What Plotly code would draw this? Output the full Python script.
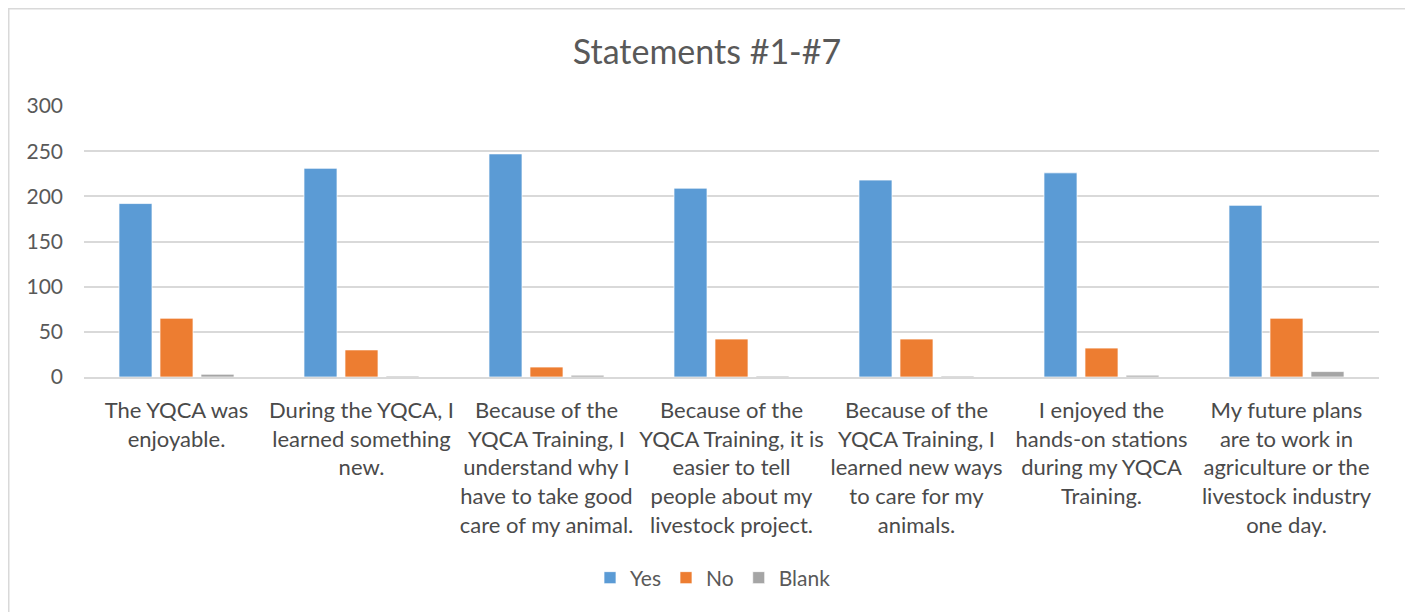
import plotly.graph_objects as go

categories = [
    "The YQCA was<br>enjoyable.",
    "During the YQCA, I<br>learned something<br>new.",
    "Because of the<br>YQCA Training, I<br>understand why I<br>have to take good<br>care of my animal.",
    "Because of the<br>YQCA Training, it is<br>easier to tell<br>people about my<br>livestock project.",
    "Because of the<br>YQCA Training, I<br>learned new ways<br>to care for my<br>animals.",
    "I enjoyed the<br>hands-on stations<br>during my YQCA<br>Training.",
    "My future plans<br>are to work in<br>agriculture or the<br>livestock industry<br>one day.",
]
yes_vals = [192, 231, 247, 209, 218, 226, 190]
no_vals = [65, 30, 11, 42, 42, 32, 65]
blank_vals = [3, 1, 2, 1, 1, 2, 6]

OFF = 8  # page body margin
W, H = 1413 - OFF, 612 - OFF
# plot area in page pixels: x 84..1379, y 106..377
ml, mr, mt, mb = 84 - OFF, W - (1379 - OFF), 106 - OFF, H - (377 - OFF)
pw, ph = W - ml - mr, H - mt - mb

def px_x(x):
    return (x - OFF - ml) / pw

def px_y(y):
    return (H - mb - (y - OFF)) / ph

fig = go.Figure()
for name, vals, color in [("Yes", yes_vals, "#5B9BD5"), ("No", no_vals, "#ED7D31"), ("Blank", blank_vals, "#A5A5A5")]:
    fig.add_trace(go.Bar(name=name, x=categories, y=vals,
                         marker=dict(color=color, line=dict(color="rgba(255,255,255,0.7)", width=1))))

fig.update_layout(
    width=W, height=H, autosize=False,
    margin=dict(l=ml, r=mr, t=mt, b=mb, autoexpand=False),
    paper_bgcolor="white", plot_bgcolor="white",
    barmode="group", bargap=0.335, bargroupgap=0.195,
    font=dict(family="Lato, Open Sans, sans-serif", color="#595959", size=21),
    title=dict(text="Statements #1-#7", x=(707 - OFF) / W, xref="container", xanchor="center",
               y=1 - (52 - OFF) / H, yanchor="middle",
               font=dict(size=34, color="#595959")),
    legend=dict(orientation="h", x=px_x(713), xanchor="center", y=px_y(578), yanchor="middle",
                font=dict(size=21, color="#595959"), traceorder="normal"),
    xaxis=dict(showgrid=False, showline=True, linecolor="#d9d9d9", linewidth=1.5, ticks="",
               tickfont=dict(size=22, color="#4a4a4a"), tickangle=0, automargin=False,
               ticklabelstandoff=13),
    yaxis=dict(range=[0, 300], dtick=50, showgrid=True, gridcolor="#d9d9d9", gridwidth=1.5,
               zeroline=False, ticks="", tickfont=dict(size=21, color="#595959"), automargin=False,
               ticklabelstandoff=20),
    shapes=[dict(type="rect", xref="paper", yref="paper",
                 x0=px_x(8.75), x1=px_x(1407), y0=px_y(625), y1=px_y(8.75),
                 line=dict(color="#d9d9d9", width=1.5), fillcolor="rgba(0,0,0,0)", layer="below")],
)

fig.write_html("out.html")
